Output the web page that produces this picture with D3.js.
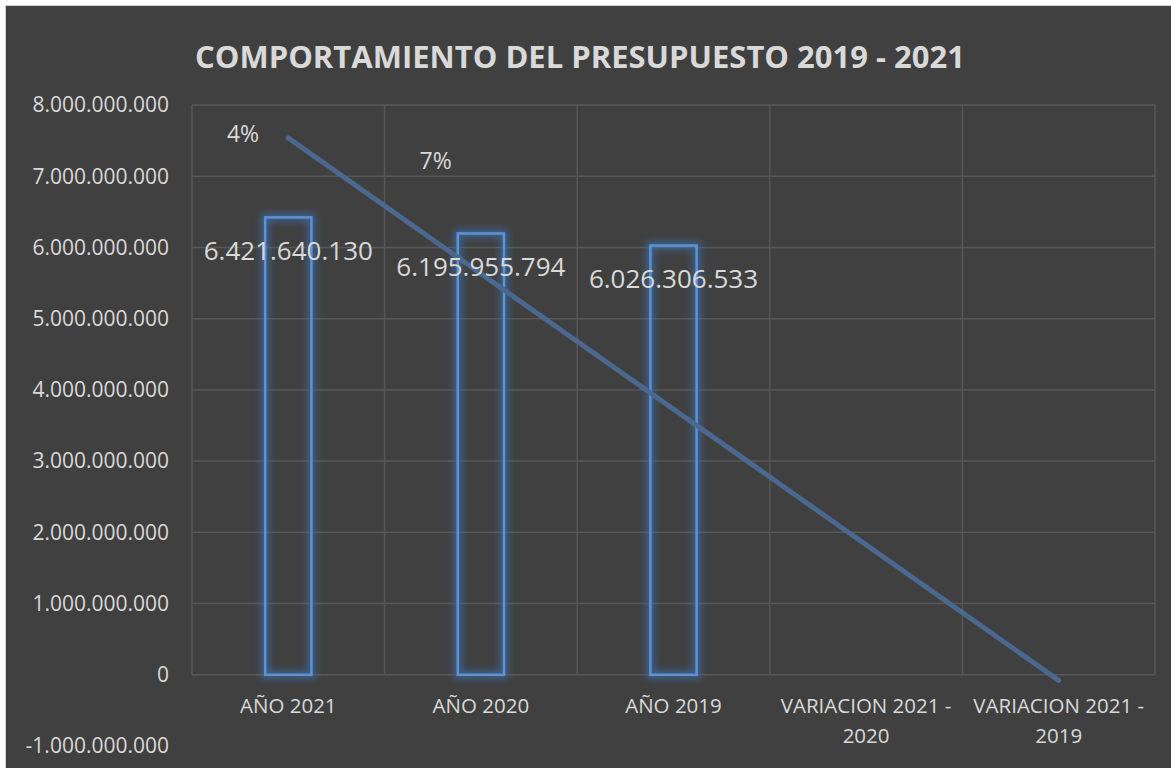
<!DOCTYPE html>
<html>
<head>
<meta charset="utf-8">
<script src="https://cdn.jsdelivr.net/npm/d3@7"></script>
<style>
  html, body { margin: 0; padding: 0; background: #ffffff; }
  svg { display: block; }
  text { font-family: "Open Sans", "Noto Sans", sans-serif; }
</style>
</head>
<body>
<svg id="chart" width="1171" height="768"></svg>
<script>
// ---- data ----
const title = "COMPORTAMIENTO DEL PRESUPUESTO 2019 - 2021";
const categories = ["AÑO 2021", "AÑO 2020", "AÑO 2019", "VARIACION 2021 - 2020", "VARIACION 2021 - 2019"];
const values = [6421640130, 6195955794, 6026306533, 0.0364, 0.0656];
const valueLabels = ["6.421.640.130", "6.195.955.794", "6.026.306.533", "4%", "7%"];
const yTicks = [-1000000000, 0, 1000000000, 2000000000, 3000000000, 4000000000, 5000000000, 6000000000, 7000000000, 8000000000];

// ---- layout ----
const svg = d3.select("#chart");
const W = 1171, H = 768;
const plot = { left: 192, right: 1155, top: 105, bottom: 746 };
const textColor = "#d9d9d9";
const gridColor = "#575757";

// background
svg.append("rect").attr("x", 5.5).attr("y", 5.5).attr("width", W).attr("height", H)
  .attr("fill", "#404040").attr("stroke", "#d0d0d0").attr("stroke-width", 1);

// glow filter
const defs = svg.append("defs");
const f = defs.append("filter").attr("id", "glow").attr("x", "-50%").attr("y", "-50%").attr("width", "200%").attr("height", "200%");
f.append("feGaussianBlur").attr("in", "SourceGraphic").attr("stdDeviation", 3.5);

// scales
const x = d3.scaleBand().domain(categories).range([plot.left, plot.right]).paddingInner(0).paddingOuter(0);
const y = d3.scaleLinear().domain([-1000000000, 8000000000]).range([plot.bottom, plot.top]);

// horizontal gridlines
svg.append("g").selectAll("line").data(yTicks.filter(t => t >= 0)).join("line")
  .attr("x1", plot.left).attr("x2", plot.right)
  .attr("y1", d => y(d)).attr("y2", d => y(d))
  .attr("stroke", gridColor).attr("stroke-width", 1.5);

// vertical gridlines (category boundaries)
const bounds = categories.map(c => x(c)).concat([x(categories[categories.length - 1]) + x.bandwidth()]);
svg.append("g").selectAll("line").data(bounds).join("line")
  .attr("x1", d => d).attr("x2", d => d)
  .attr("y1", y(8000000000)).attr("y2", y(0))
  .attr("stroke", gridColor).attr("stroke-width", 1.5);

// y axis labels
const fmt = v => {
  const s = d3.format(",")(Math.abs(v)).replace(/,/g, ".");
  return (v < 0 ? "-" : "") + s;
};
svg.append("g").selectAll("text").data(yTicks).join("text")
  .attr("x", 169).attr("y", d => y(d)).attr("dy", "0.35em")
  .attr("text-anchor", "end").attr("fill", textColor)
  .attr("font-size", 21).text(fmt);

// category labels (wrapped)
const catG = svg.append("g");
categories.forEach(c => {
  const cx = x(c) + x.bandwidth() / 2;
  let lines = [c];
  if (c.startsWith("VARIACION")) {
    const parts = c.split(" - ");
    lines = [parts[0] + " -", parts[1]];
  }
  lines.forEach((ln, i) => {
    catG.append("text").attr("x", cx).attr("y", 706 + i * 30).attr("dy", "0.35em")
      .attr("text-anchor", "middle").attr("fill", textColor).attr("font-size", 20.5).text(ln);
  });
});

// bars (hollow, glowing)
const barW = x.bandwidth() * 0.24;
const barData = categories.map((c, i) => ({ c, v: values[i], label: valueLabels[i], i }));
const visibleBars = barData.filter(d => Math.abs(y(d.v) - y(0)) > 1);
const barG = svg.append("g");
function barRects(sel) {
  return sel.attr("x", d => x(d.c) + (x.bandwidth() - barW) / 2)
    .attr("y", d => y(d.v))
    .attr("width", barW)
    .attr("height", d => y(0) - y(d.v))
    .attr("fill", "none");
}
barRects(barG.append("g").selectAll("rect").data(visibleBars).join("rect"))
  .attr("stroke", "#3f6ea8").attr("stroke-width", 8).attr("stroke-opacity", 0.75)
  .attr("filter", "url(#glow)");
barRects(barG.append("g").selectAll("rect").data(visibleBars).join("rect"))
  .attr("stroke", "#5b93d6").attr("stroke-width", 2.5);

// linear trendline over all series values
const n = values.length;
const xs = d3.range(1, n + 1);
const mx = d3.mean(xs), my = d3.mean(values);
const slope = d3.sum(xs, (xi, i) => (xi - mx) * (values[i] - my)) / d3.sum(xs, xi => (xi - mx) ** 2);
const icpt = my - slope * mx;
const trend = [1, n].map(k => ({ c: categories[k - 1], v: icpt + slope * k }));
svg.append("line")
  .attr("x1", x(trend[0].c) + x.bandwidth() / 2).attr("y1", y(trend[0].v))
  .attr("x2", x(trend[1].c) + x.bandwidth() / 2).attr("y2", y(trend[1].v))
  .attr("stroke", "#4a6890").attr("stroke-width", 5).attr("stroke-linecap", "round");

// value labels for the year bars
svg.append("g").selectAll("text").data(barData.filter(d => d.v > 1)).join("text")
  .attr("x", d => x(d.c) + x.bandwidth() / 2)
  .attr("y", d => y(d.v) + 33).attr("dy", "0.35em")
  .attr("text-anchor", "middle").attr("fill", textColor)
  .attr("font-size", 26).text(d => d.label);

// percentage labels of the variation series (placed near the top of the first bands)
const pct = barData.filter(d => d.v < 1);
svg.append("g").selectAll("text").data(pct).join("text")
  .attr("x", (d, k) => x(categories[k]) + 51)
  .attr("y", (d, k) => y(7600000000 - k * 380000000)).attr("dy", "0.35em")
  .attr("text-anchor", "middle").attr("fill", textColor)
  .attr("font-size", 23).text(d => d.label);

// title
svg.append("text").attr("x", 580).attr("y", 57).attr("dy", "0.35em")
  .attr("text-anchor", "middle").attr("fill", textColor)
  .attr("font-size", 31).attr("font-weight", "bold").text(title);
</script>
</body>
</html>
